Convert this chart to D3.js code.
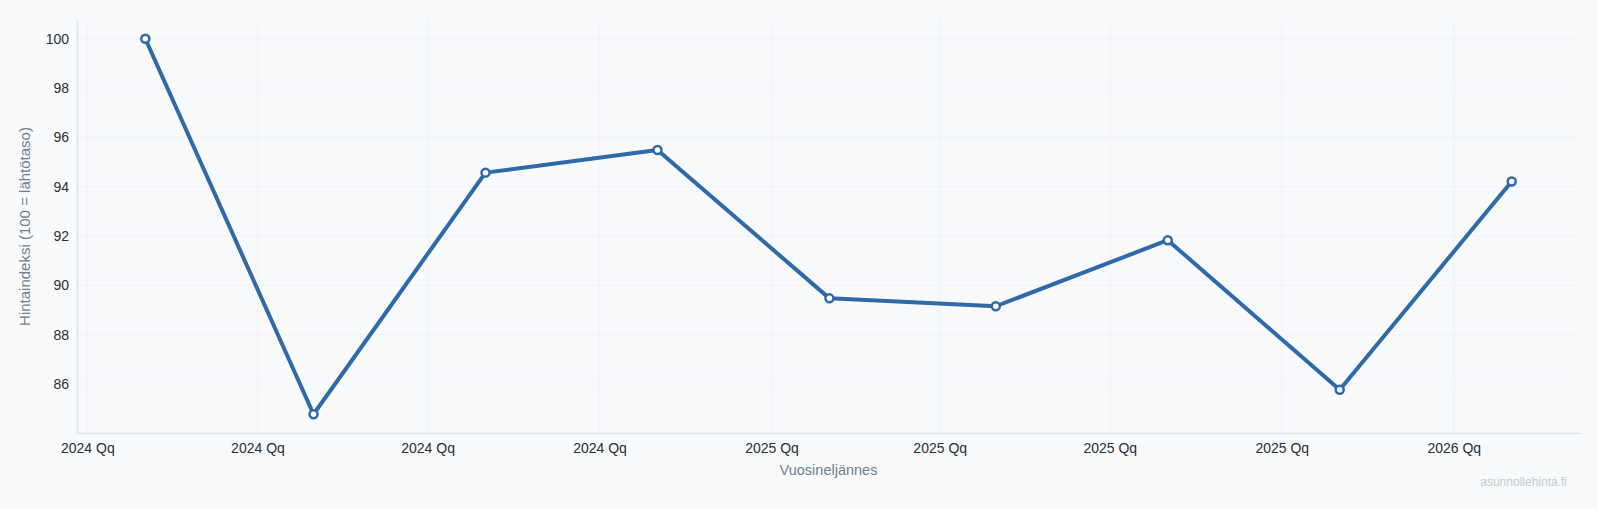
<!DOCTYPE html>
<html>
<head>
<meta charset="utf-8">
<script src="https://cdn.jsdelivr.net/npm/d3@7"></script>
<style>
  html, body { margin: 0; padding: 0; background: #f7f9fb; }
  svg { display: block; font-family: "Liberation Sans", Arial, Helvetica, sans-serif; }
  .tick text { fill: #2b2f36; font-size: 14px; }
  .axis-title { fill: #6f7f92; font-size: 14.5px; }
  .axis-title.y { font-size: 15px; }
  .watermark { fill: #c3c9d1; font-size: 12px; }
</style>
</head>
<body>
<div id="chart"></div>
<script>
// Quarterly observations (first day of the middle month of each quarter)
const dates = ['2024-02-01', '2024-05-01', '2024-08-01', '2024-11-01',
               '2025-02-01', '2025-05-01', '2025-08-01', '2025-11-01', '2026-02-01'];
const indexValues = [100, 84.77, 94.57, 95.49, 89.47, 89.15, 91.83, 85.76, 94.21];

const xTitle = 'Vuosineljännes';
const yTitle = 'Hintaindeksi (100 = lähtötaso)';
const watermark = 'asunnollehinta.fi';

class LineChart {

  constructor(_config, _dates, _values) {
    this.config = {
      parentElement: _config.parentElement,
      containerWidth: 1598,
      containerHeight: 509,
      margin: {top: 20, right: 18, bottom: 76, left: 77},
      lineColor: '#2f69a7',
      padFraction: 0.05
    };
    const parse = d3.timeParse('%Y-%m-%d');
    this.data = _dates.map((d, i) => ({date: parse(d), value: _values[i]}));
    this.initVis();
  }

  initVis() {
    let vis = this;

    vis.config.width = vis.config.containerWidth - vis.config.margin.left - vis.config.margin.right;
    vis.config.height = vis.config.containerHeight - vis.config.margin.top - vis.config.margin.bottom;

    vis.svg = d3.select(vis.config.parentElement).append('svg')
        .attr('width', vis.config.containerWidth)
        .attr('height', vis.config.containerHeight);

    vis.chart = vis.svg.append('g')
        .attr('transform', `translate(${vis.config.margin.left},${vis.config.margin.top})`);

    // Pad both domains by 5% so the end points don't sit on the edges
    const [t0, t1] = d3.extent(vis.data, d => d.date);
    const tPad = (t1 - t0) * vis.config.padFraction;
    vis.xScale = d3.scaleTime()
        .domain([new Date(+t0 - tPad), new Date(+t1 + tPad)])
        .range([0, vis.config.width]);

    const [v0, v1] = d3.extent(vis.data, d => d.value);
    const vPad = (v1 - v0) * vis.config.padFraction;
    vis.yScale = d3.scaleLinear()
        .domain([v0 - vPad, v1 + vPad])
        .range([vis.config.height, 0]);

    vis.xTicks = d3.timeMonth.every(3).range(vis.xScale.domain()[0], vis.xScale.domain()[1]);

    vis.renderVis();
  }

  renderVis() {
    let vis = this;

    // Gridlines
    vis.chart.append('g')
        .selectAll('line')
        .data(vis.yScale.ticks())
      .join('line')
        .attr('x1', 0)
        .attr('x2', vis.config.width)
        .attr('y1', d => vis.yScale(d))
        .attr('y2', d => vis.yScale(d))
        .attr('stroke', '#f0f2f5')
        .attr('stroke-width', 1);

    vis.chart.append('g')
        .selectAll('line')
        .data(vis.xTicks)
      .join('line')
        .attr('x1', d => vis.xScale(d))
        .attr('x2', d => vis.xScale(d))
        .attr('y1', 0)
        .attr('y2', vis.config.height)
        .attr('stroke', '#f0f2f5')
        .attr('stroke-width', 1);

    // Axes
    const xAxis = d3.axisBottom(vis.xScale)
        .tickValues(vis.xTicks)
        .tickSize(0)
        .tickPadding(10)
        .tickFormat(d => d3.timeFormat('%Y')(d) + ' Qq');

    const yAxis = d3.axisLeft(vis.yScale)
        .tickSize(0)
        .tickPadding(8);

    const xAxisG = vis.chart.append('g')
        .attr('transform', `translate(0,${vis.config.height})`)
        .call(xAxis);

    const yAxisG = vis.chart.append('g')
        .call(yAxis);

    [xAxisG, yAxisG].forEach(g => {
      g.select('.domain').attr('stroke', '#dde4ec').attr('stroke-width', 1.5);
      g.selectAll('.tick text').attr('font-family', null).attr('font-size', null);
    });

    // Line
    const line = d3.line()
        .x(d => vis.xScale(d.date))
        .y(d => vis.yScale(d.value));

    vis.chart.append('path')
        .datum(vis.data)
        .attr('fill', 'none')
        .attr('stroke', vis.config.lineColor)
        .attr('stroke-width', 4)
        .attr('stroke-linejoin', 'round')
        .attr('d', line);

    vis.chart.append('g')
        .selectAll('circle')
        .data(vis.data)
      .join('circle')
        .attr('cx', d => vis.xScale(d.date))
        .attr('cy', d => vis.yScale(d.value))
        .attr('r', 4)
        .attr('fill', '#ffffff')
        .attr('stroke', vis.config.lineColor)
        .attr('stroke-width', 2.5);

    // Titles
    vis.chart.append('text')
        .attr('class', 'axis-title')
        .attr('text-anchor', 'middle')
        .attr('x', vis.config.width / 2)
        .attr('y', vis.config.height + 42)
        .text(xTitle);

    vis.chart.append('text')
        .attr('class', 'axis-title y')
        .attr('text-anchor', 'middle')
        .attr('transform', `translate(${-vis.config.margin.left + 30},${vis.config.height / 2}) rotate(-90)`)
        .text(yTitle);

    vis.svg.append('text')
        .attr('class', 'watermark')
        .attr('text-anchor', 'end')
        .attr('x', vis.config.containerWidth - 31)
        .attr('y', vis.config.containerHeight - 23)
        .text(watermark);
  }
}

const chart = new LineChart({parentElement: '#chart'}, dates, indexValues);
</script>
</body>
</html>
